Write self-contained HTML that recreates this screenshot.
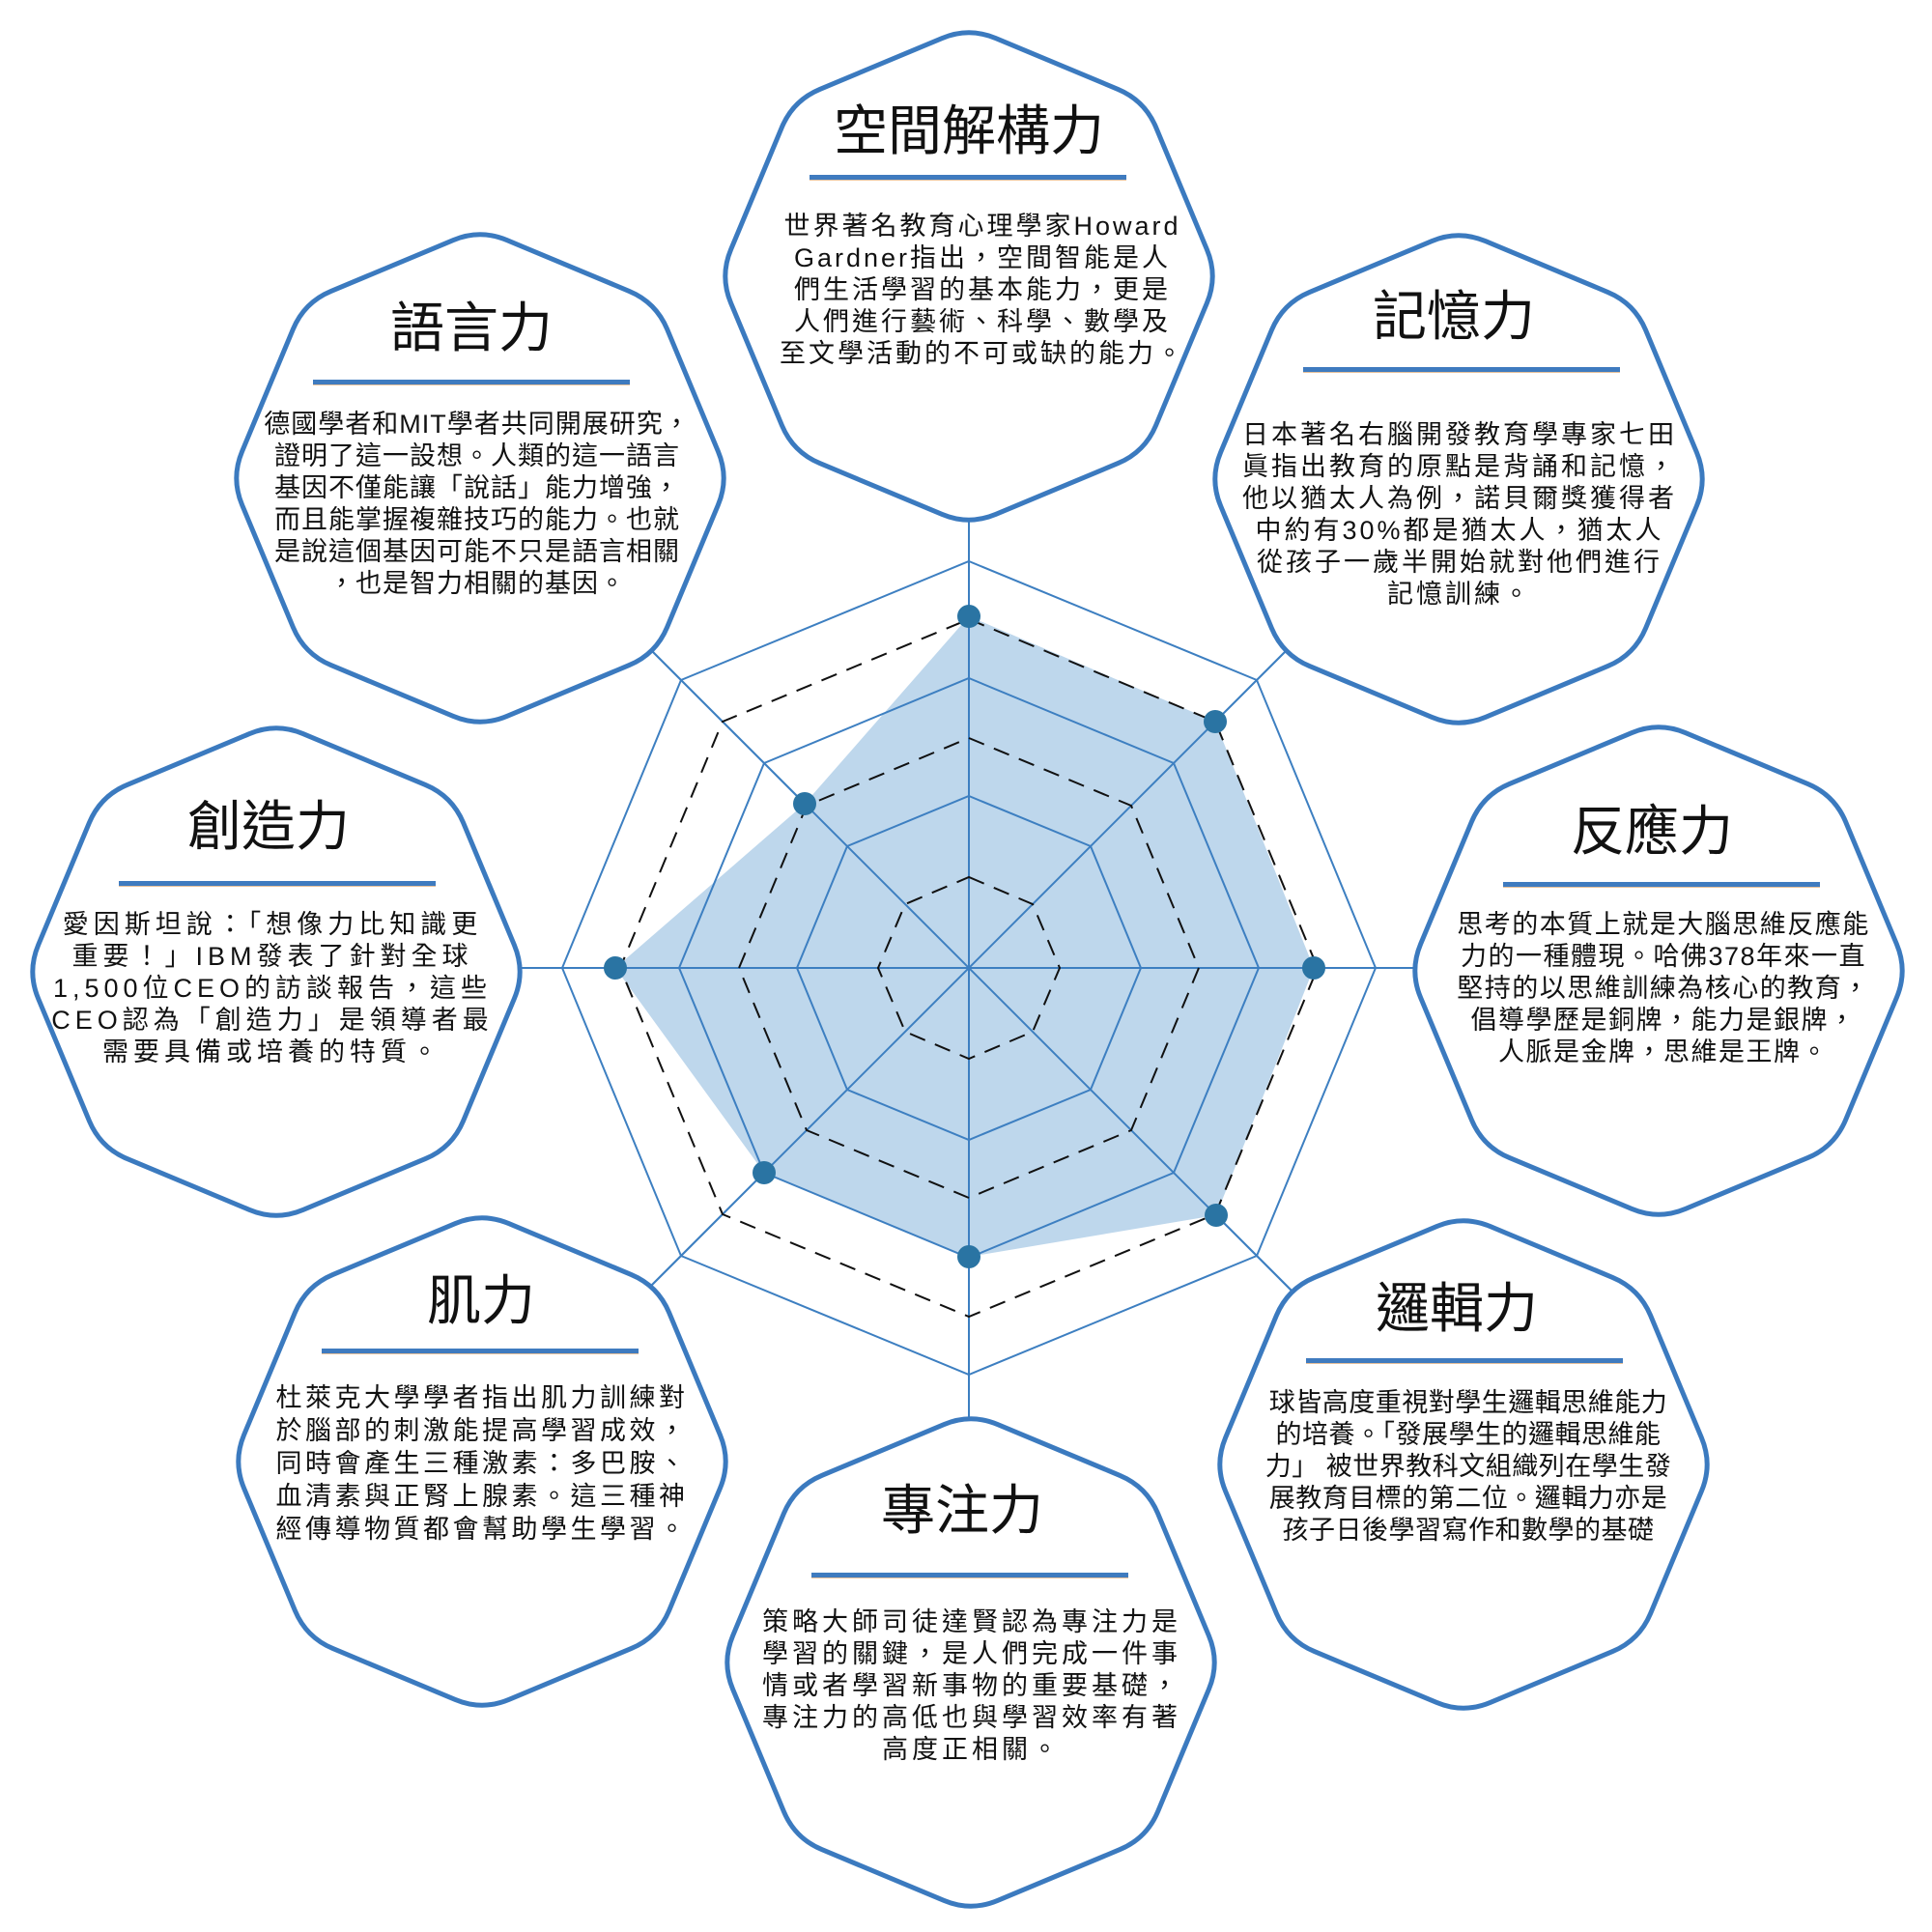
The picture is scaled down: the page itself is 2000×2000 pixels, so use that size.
<!DOCTYPE html>
<html><head><meta charset="utf-8">
<style>
html,body{margin:0;padding:0;background:#fff;}
#c{position:relative;width:2000px;height:2000px;overflow:hidden;background:#fff;}
svg{position:absolute;left:0;top:0;}
.t{position:absolute;width:600px;text-align:center;font-family:"Liberation Sans","Noto Sans CJK TC",sans-serif;font-size:56px;line-height:70px;color:#111;white-space:nowrap;}
.u{position:absolute;width:328px;height:5px;background:#3f7bbf;border-bottom:1px solid #e6c09a;}
.b{position:absolute;width:560px;text-align:center;font-family:"Liberation Sans","Noto Sans CJK TC",sans-serif;font-size:27px;line-height:33px;color:#111;white-space:nowrap;}
</style></head><body><div id="c">
<svg width="2000" height="2000" viewBox="0 0 2000 2000">
 <g transform="translate(1003,1002)" stroke="#3d7fc1" stroke-width="2" fill="none">
  <line x1="0" y1="-520" x2="0" y2="520"/>
  <line x1="-520" y1="0" x2="520" y2="0"/>
  <line x1="-368" y1="-368" x2="368" y2="368"/>
  <line x1="368" y1="-368" x2="-368" y2="368"/>
 </g>
 <polygon points="1003,638 1258,747 1360,1002 1259,1258 1003,1301 791,1214 637,1002 833,832" fill="#bed7ec" stroke="none"/>
 <g transform="translate(1003,1002)" stroke="#3d7fc1" stroke-width="2" fill="none">
  <line x1="0" y1="-520" x2="0" y2="520"/>
  <line x1="-520" y1="0" x2="520" y2="0"/>
  <line x1="-368" y1="-368" x2="368" y2="368"/>
  <line x1="368" y1="-368" x2="-368" y2="368"/>
  <polygon points="0,-178 126,-126 178,0 126,126 0,178 -126,126 -178,0 -126,-126"/>
  <polygon points="0,-300 212,-212 300,0 212,212 0,300 -212,212 -300,0 -212,-212"/>
  <polygon points="0,-421 298,-298 421,0 298,298 0,421 -298,298 -421,0 -298,-298"/>
 </g>
 <g transform="translate(1003,1002)" stroke="#111" stroke-width="2" fill="none" stroke-dasharray="17,11">
  <polygon points="0,-94 66,-66 94,0 66,66 0,94 -66,66 -94,0 -66,-66"/>
  <polygon points="0,-238 168,-168 238,0 168,168 0,238 -168,168 -238,0 -168,-168"/>
  <polygon points="0,-361 255,-255 361,0 255,255 0,361 -255,255 -361,0 -255,-255"/>
 </g>
 <g fill="#2a74a3">
  <circle cx="1003" cy="638" r="12"/><circle cx="1258" cy="747" r="12"/>
  <circle cx="1360" cy="1002" r="12"/><circle cx="1259" cy="1258" r="12"/>
  <circle cx="1003" cy="1301" r="12"/><circle cx="791" cy="1214" r="12"/>
  <circle cx="637" cy="1002" r="12"/><circle cx="833" cy="832" r="12"/>
 </g>
 <defs><path id="o" d="M27.7,-246.4 L154.3,-193.6 Q182,-182 193.6,-154.3 L246.4,-27.7 Q258,0 246.4,27.7 L193.6,154.3 Q182,182 154.3,193.6 L27.7,246.4 Q0,258 -27.7,246.4 L-154.3,193.6 Q-182,182 -193.6,154.3 L-246.4,27.7 Q-258,0 -246.4,-27.7 L-193.6,-154.3 Q-182,-182 -154.3,-193.6 L-27.7,-246.4 Q0,-258 27.7,-246.4 Z" fill="#fff" stroke="#3b7abf" stroke-width="5" stroke-linejoin="round"/></defs>
 <use href="#o" transform="translate(1003,286)"/>
 <use href="#o" transform="translate(1510,496)"/>
 <use href="#o" transform="translate(1717,1005)"/>
 <use href="#o" transform="translate(1515,1516)"/>
 <use href="#o" transform="translate(1005,1721)"/>
 <use href="#o" transform="translate(499,1513)"/>
 <use href="#o" transform="translate(286,1006)"/>
 <use href="#o" transform="translate(497,495)"/>
</svg>

<!-- top -->
<div class="t" style="left:703px;top:101px;">空間解構力</div>
<div class="u" style="left:838px;top:181px;"></div>
<div class="b" style="left:737px;top:218px;letter-spacing:3px;">世界著名教育心理學家Howard<br>Gardner指出，空間智能是人<br>們生活學習的基本能力，更是<br>人們進行藝術、科學、數學及<br>至文學活動的不可或缺的能力。</div>

<!-- 記憶力 -->
<div class="t" style="left:1205px;top:293px;">記憶力</div>
<div class="u" style="left:1349px;top:380px;"></div>
<div class="b" style="left:1231px;top:434px;letter-spacing:3px;">日本著名右腦開發教育學專家七田<br>眞指出教育的原點是背誦和記憶，<br>他以猶太人為例，諾貝爾獎獲得者<br>中約有30%都是猶太人，猶太人<br>從孩子一歲半開始就對他們進行<br>記憶訓練。</div>

<!-- 語言力 -->
<div class="t" style="left:188px;top:305px;">語言力</div>
<div class="u" style="left:324px;top:393px;"></div>
<div class="b" style="left:214px;top:423px;letter-spacing:1px;">德國學者和MIT學者共同開展研究，<br>證明了這一設想。人類的這一語言<br>基因不僅能讓「說話」能力增強，<br>而且能掌握複雜技巧的能力。也就<br>是說這個基因可能不只是語言相關<br>，也是智力相關的基因。</div>

<!-- 創造力 -->
<div class="t" style="left:-22px;top:821px;">創造力</div>
<div class="u" style="left:123px;top:912px;"></div>
<div class="b" style="left:2px;top:941px;letter-spacing:5px;">愛因斯坦說：「想像力比知識更<br>重要！」IBM發表了針對全球<br>1,500位CEO的訪談報告，這些<br>CEO認為「創造力」是領導者最<br>需要具備或培養的特質。</div>

<!-- 反應力 -->
<div class="t" style="left:1410px;top:826px;">反應力</div>
<div class="u" style="left:1556px;top:913px;"></div>
<div class="b" style="left:1442px;top:941px;letter-spacing:1.5px;">思考的本質上就是大腦思維反應能<br>力的一種體現。哈佛378年來一直<br>堅持的以思維訓練為核心的教育，<br>倡導學歷是銅牌，能力是銀牌，<br>人脈是金牌，思維是王牌。</div>

<!-- 肌力 -->
<div class="t" style="left:198px;top:1312px;">肌力</div>
<div class="u" style="left:333px;top:1396px;"></div>
<div class="b" style="left:219px;top:1430px;line-height:34px;letter-spacing:3.5px;">杜萊克大學學者指出肌力訓練對<br>於腦部的刺激能提高學習成效，<br>同時會產生三種激素：多巴胺、<br>血清素與正腎上腺素。這三種神<br>經傳導物質都會幫助學生學習。</div>

<!-- 邏輯力 -->
<div class="t" style="left:1208px;top:1320px;">邏輯力</div>
<div class="u" style="left:1352px;top:1406px;"></div>
<div class="b" style="left:1240px;top:1436px;letter-spacing:0.5px;">球皆高度重視對學生邏輯思維能力<br>的培養。「發展學生的邏輯思維能<br>力」 被世界教科文組織列在學生發<br>展教育目標的第二位。邏輯力亦是<br>孩子日後學習寫作和數學的基礎</div>

<!-- 專注力 -->
<div class="t" style="left:696px;top:1529px;">專注力</div>
<div class="u" style="left:840px;top:1628px;"></div>
<div class="b" style="left:726px;top:1663px;letter-spacing:4px;">策略大師司徒達賢認為專注力是<br>學習的關鍵，是人們完成一件事<br>情或者學習新事物的重要基礎，<br>專注力的高低也與學習效率有著<br>高度正相關。</div>
</div></body></html>
